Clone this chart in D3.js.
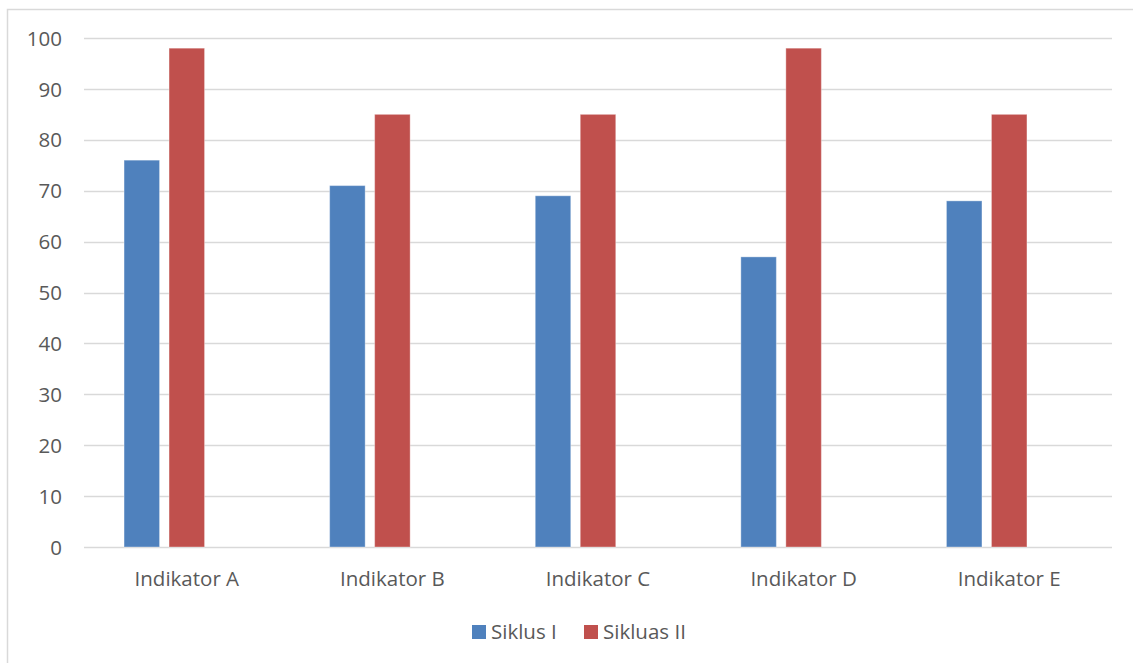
<!DOCTYPE html>
<html><head><meta charset="utf-8">
<script src="https://cdn.jsdelivr.net/npm/d3@7"></script>
<style>
html,body{margin:0;padding:0;background:#fff;}
text{font-family:"Open Sans","Noto Sans",sans-serif;fill:#595959;}
</style></head>
<body><svg id="c" width="1133" height="663"></svg>
<script>
const categories = ["Indikator A","Indikator B","Indikator C","Indikator D","Indikator E"];
const seriesNames = ["Siklus I","Sikluas II"];
const siklus1 = [76,71,69,57,68];
const siklus2 = [98,85,85,98,85];
const yTicks = [0,10,20,30,40,50,60,70,80,90,100];
const colors = ["#4F81BD","#C0504D"];

(function(){
const FS = "20.5px";
const svg = d3.select("#c");
// outer border
svg.append("rect").attr("x",7.5).attr("y",9.5).attr("width",1140).attr("height",670)
  .attr("fill","none").attr("stroke","#D9D9D9").attr("stroke-width",1.5);

const pLeft=84, pRight=1112, pTop=38, pBottom=547;
const x = d3.scaleBand().domain(categories).range([pLeft,pRight]).padding(0);
const slots = seriesNames.concat([""]);
const xs = d3.scaleBand().domain(slots).range([0,x.bandwidth()]).paddingInner(0.211).paddingOuter(0.89);
const y = d3.scaleLinear().domain([0,100]).range([pBottom,pTop]);

// gridlines
svg.append("g").selectAll("line").data(yTicks).join("line")
  .attr("x1",pLeft).attr("x2",pRight)
  .attr("y1",d=>Math.round(y(d))+0.5).attr("y2",d=>Math.round(y(d))+0.5)
  .attr("stroke","#D9D9D9").attr("stroke-width",1.5);

// y axis labels
const yAxis = d3.axisLeft(y).tickValues(yTicks).tickSize(0).tickPadding(0);
const gy = svg.append("g").attr("transform",`translate(62,0)`).call(yAxis);
gy.select(".domain").remove();
gy.selectAll("text").attr("font-size",FS).style("fill","#595959").attr("font-family","'Open Sans','Noto Sans',sans-serif").attr("dy","0.35em");

// bars
const data = [siklus1, siklus2];
data.forEach((vals,si)=>{
  svg.append("g").selectAll("rect").data(vals).join("rect")
    .attr("x",(d,i)=>x(categories[i])+xs(seriesNames[si]))
    .attr("width",xs.bandwidth())
    .attr("y",d=>y(d))
    .attr("height",d=>y(0)-y(d))
    .attr("fill",colors[si])
    .attr("stroke","#fff").attr("stroke-opacity",0.35).attr("stroke-width",1);
});

// x axis labels
const xAxis = d3.axisBottom(x).tickSize(0).tickPadding(0);
const gx = svg.append("g").attr("transform",`translate(0,579)`).call(xAxis);
gx.select(".domain").remove();
gx.selectAll("text").attr("font-size",FS).style("fill","#595959").attr("font-family","'Open Sans','Noto Sans',sans-serif").attr("dy","0.35em").attr("y",0);

// legend
const legendX = [472,584];
const lg = svg.append("g");
seriesNames.forEach((n,i)=>{
  lg.append("rect").attr("x",legendX[i]).attr("y",625).attr("width",14).attr("height",14).attr("fill",colors[i]);
  lg.append("text").attr("x",legendX[i]+19).attr("y",632).attr("dy","0.35em").attr("font-size",FS).text(n);
});
})();
</script></body></html>
